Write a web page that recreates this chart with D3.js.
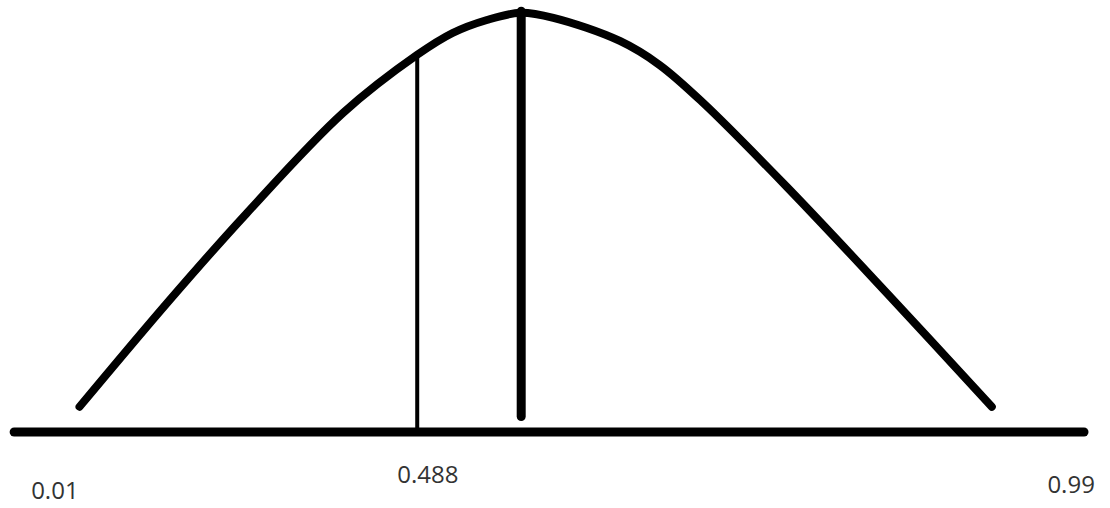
<!DOCTYPE html>
<html>
<head>
<meta charset="utf-8">
<script src="https://cdn.jsdelivr.net/npm/d3@7"></script>
<style>
  body { margin: 0; background: #fff; }
</style>
</head>
<body>
<div id="chart"></div>
<script>
// hand drawn bell curve, values in a 0-100 drawing space
const curveX = [6.3, 14.7, 21.9, 30.9, 37.8, 41.1, 44.3, 47.4,
                50.5, 56.7, 60.4, 64.5, 72.3, 81.6, 91.4];
const curveY = [6.0, 31.4, 52.1, 76.0, 89.8, 95.0, 98.1, 99.8,
                98.6, 93.1, 87.4, 78.3, 58.3, 33.1, 6.0];

// marker lines: [x, yFrom, yTo]
const thinMarker = [37.8, 0, 89.8];
const meanMarker = [47.5, 3.7, 100.2];

const tickLabels = ["0.01", "0.488", "0.99"];
const tickLabelX = [4.0, 38.8, 98.8];
const tickLabelY = [-16.0, -12.2, -14.5];

const width = 1110;
const height = 508;

const svg = d3.select("#chart").append("svg")
    .attr("width", width)
    .attr("height", height)
    .style("display", "block");

const x = d3.scaleLinear().domain([0, 100]).range([12, 1084]);
const y = d3.scaleLinear().domain([0, 100]).range([432, 12]);

const points = curveX.map((d, i) => [d, curveY[i]]);

const line = d3.line()
    .x(d => x(d[0]))
    .y(d => y(d[1]))
    .curve(d3.curveCatmullRom.alpha(0.5));

// baseline
svg.append("line")
    .attr("x1", x(0.2))
    .attr("x2", x(100))
    .attr("y1", y(0))
    .attr("y2", y(0))
    .attr("stroke", "#000")
    .attr("stroke-width", 9)
    .attr("stroke-linecap", "round");

svg.append("path")
    .datum(points)
    .attr("d", line)
    .attr("fill", "none")
    .attr("stroke", "#000")
    .attr("stroke-width", 8)
    .attr("stroke-linecap", "round")
    .attr("stroke-linejoin", "round");

svg.append("line")
    .attr("x1", x(thinMarker[0]))
    .attr("x2", x(thinMarker[0]))
    .attr("y1", y(thinMarker[1]))
    .attr("y2", y(thinMarker[2]))
    .attr("stroke", "#000")
    .attr("stroke-width", 4);

svg.append("line")
    .attr("x1", x(meanMarker[0]))
    .attr("x2", x(meanMarker[0]))
    .attr("y1", y(meanMarker[1]))
    .attr("y2", y(meanMarker[2]))
    .attr("stroke", "#000")
    .attr("stroke-width", 9)
    .attr("stroke-linecap", "round");

svg.selectAll(".tick-label")
    .data(tickLabels)
    .join("text")
    .attr("class", "tick-label")
    .attr("x", (d, i) => x(tickLabelX[i]))
    .attr("y", (d, i) => y(tickLabelY[i]))
    .attr("text-anchor", "middle")
    .style("font-family", "'Open Sans', sans-serif")
    .style("font-size", "24px")
    .style("fill", "#333")
    .text(d => d);
</script>
</body>
</html>
